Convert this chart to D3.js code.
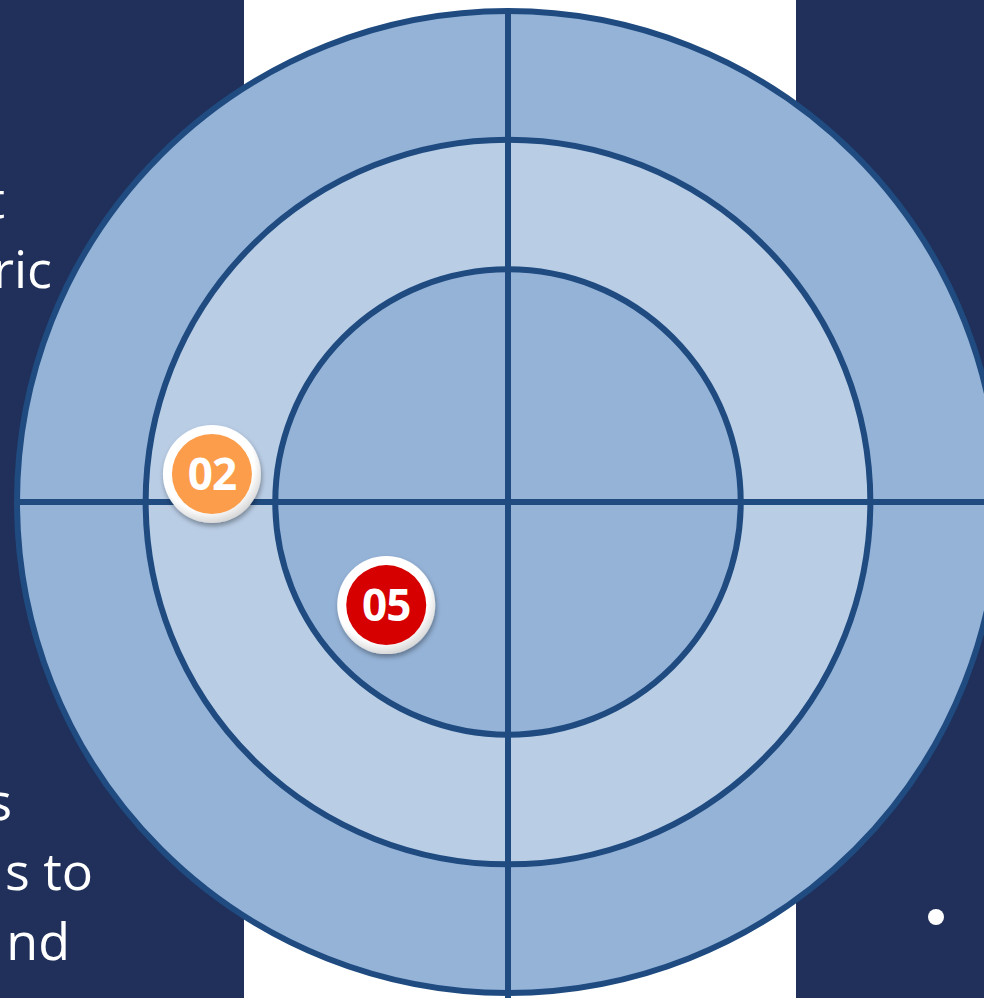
<!DOCTYPE html>
<html>
<head>
<meta charset="utf-8">
<script src="https://cdn.jsdelivr.net/npm/d3@7"></script>
<style>
  body { margin: 0; background: #fff; }
  svg { display: block; }
</style>
</head>
<body>
<div id="chart-container"></div>
<script>
// Ring radii as fraction of the outer radius (outer -> inner)
const rings = [1, 0.738, 0.474];
const ringFills = ["#95b3d7", "#b9cde5", "#95b3d7"];

// Markers placed on the target, coordinates in [-1, 1] units
const markerLabels = ["02", "05"];
const markerX = [-0.603, -0.248];
const markerY = [0.057, -0.21];
const markerColors = ["#fb9d4b", "#d60000"];

// Text fragments visible on the cropped side panels
const leftLines = ["t", "ric", "s", "s to", "nd"];
const leftBaselines = [218, 288, 820, 890, 960];
const leftEnds = [5, 52, 12, 93, 70];

const width = 984;
const height = 998;
const cx = 508, cy = 502, R = 491;

const svg = d3.select('#chart-container').append('svg')
  .attr('width', width)
  .attr('height', height);

// drop shadow for markers
const defs = svg.append('defs');
const f = defs.append('filter').attr('id', 'shadow')
  .attr('x', '-30%').attr('y', '-30%').attr('width', '160%').attr('height', '160%');
f.append('feDropShadow').attr('dx', 1).attr('dy', 3).attr('stdDeviation', 2.5)
  .attr('flood-color', '#000').attr('flood-opacity', 0.35);
const g = defs.append('radialGradient').attr('id', 'rim')
  .attr('cx', '45%').attr('cy', '40%').attr('r', '60%');
g.append('stop').attr('offset', '80%').attr('stop-color', '#ffffff');
g.append('stop').attr('offset', '100%').attr('stop-color', '#d9d9d9');

// side panels
svg.append('rect').attr('x', 0).attr('y', 0).attr('width', 244).attr('height', height)
  .attr('fill', '#20305a');
svg.append('rect').attr('x', 796).attr('y', 0).attr('width', width - 796).attr('height', height)
  .attr('fill', '#20305a');

// scales
const r = d3.scaleLinear().domain([0, 1]).range([0, R]);
const x = d3.scaleLinear().domain([-1, 1]).range([cx - R, cx + R]);
const y = d3.scaleLinear().domain([-1, 1]).range([cy + R, cy - R]);

// rings
svg.selectAll('.ring')
  .data(rings)
  .enter().append('circle')
  .attr('class', 'ring')
  .attr('cx', x(0))
  .attr('cy', y(0))
  .attr('r', d => r(d))
  .attr('fill', (d, i) => ringFills[i])
  .attr('stroke', '#1f4b80')
  .attr('stroke-width', 6);

// cross lines
svg.append('line')
  .attr('x1', x(0)).attr('x2', x(0))
  .attr('y1', y(1)).attr('y2', height)
  .attr('stroke', '#1f4b80').attr('stroke-width', 6);
svg.append('line')
  .attr('x1', x(-1)).attr('x2', width)
  .attr('y1', y(0)).attr('y2', y(0))
  .attr('stroke', '#1f4b80').attr('stroke-width', 6);

// markers
const markers = svg.selectAll('.marker')
  .data(markerLabels)
  .enter().append('g')
  .attr('class', 'marker')
  .attr('transform', (d, i) => `translate(${x(markerX[i])},${y(markerY[i])})`);

markers.append('circle')
  .attr('r', 49)
  .attr('fill', 'url(#rim)')
  .attr('filter', 'url(#shadow)');
markers.append('circle')
  .attr('r', 40)
  .attr('fill', (d, i) => markerColors[i]);
markers.append('text')
  .attr('text-anchor', 'middle')
  .attr('dy', '0.36em')
  .attr('fill', '#fff')
  .attr('font-family', 'Open Sans, sans-serif')
  .attr('font-weight', 'bold')
  .attr('font-size', 44)
  .attr('letter-spacing', -1)
  .text(d => d);

// left panel text
svg.selectAll('.ltext')
  .data(leftLines)
  .enter().append('text')
  .attr('class', 'ltext')
  .attr('x', (d, i) => leftEnds[i])
  .attr('y', (d, i) => leftBaselines[i])
  .attr('text-anchor', 'end')
  .attr('fill', '#fff')
  .attr('font-family', 'Open Sans, sans-serif')
  .attr('font-size', 52)
  .text(d => d);

// bullet on right panel
svg.append('circle')
  .attr('cx', 936).attr('cy', 917).attr('r', 8)
  .attr('fill', '#fff');
</script>
</body>
</html>
